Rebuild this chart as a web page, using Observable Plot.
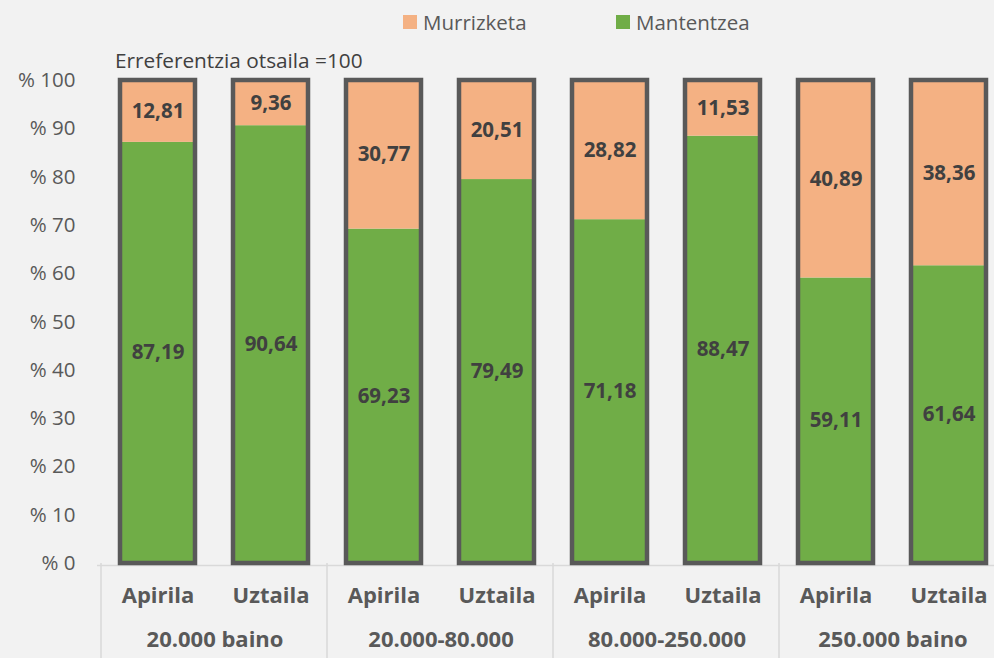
<!DOCTYPE html>
<html><head><meta charset="utf-8">
<script src="https://cdn.jsdelivr.net/npm/d3@7"></script>
<script src="https://cdn.jsdelivr.net/npm/@observablehq/plot@0.6"></script>
<style>
html,body{margin:0;padding:0;background:#f2f2f2;}
#wrap{position:relative;width:994px;height:658px;overflow:hidden;font-family:"Open Sans",sans-serif;}
.leg{position:absolute;top:8px;font-size:20.5px;line-height:28px;color:#595959;display:flex;align-items:center;}
.sw{width:14px;height:14px;display:inline-block;margin-right:6px;}
#sub{position:absolute;left:115px;top:46px;font-size:20.8px;line-height:28px;color:#404040;}
</style></head>
<body><div id="wrap"></div>
<script>
const groups = ["20.000 baino", "20.000-80.000", "80.000-250.000", "250.000 baino"];
const months = ["Apirila", "Uztaila"];
const mantentzea = [87.19, 90.64, 69.23, 79.49, 71.18, 88.47, 59.11, 61.64];
const murrizketa = [12.81, 9.36, 30.77, 20.51, 28.82, 11.53, 40.89, 38.36];
const series = ["Murrizketa", "Mantentzea"];
const colors = ["#f4b183", "#70ad47"];
const yTicks = [0, 10, 20, 30, 40, 50, 60, 70, 80, 90, 100];
const subtitle = "Erreferentzia otsaila =100";

const rows = mantentzea.map((m, i) => ({
  key: groups[Math.floor(i / 2)] + "|" + months[i % 2],
  group: groups[Math.floor(i / 2)],
  month: months[i % 2],
  mant: m,
  murr: murrizketa[i]
}));
const groupRows = groups.map(g => ({group: g, key: g + "|" + months[0]}));
const fmt = v => v.toFixed(2).replace(".", ",");

const chart = Plot.plot({
  width: 994,
  height: 658,
  marginLeft: 97,
  marginRight: 0,
  marginTop: 80,
  marginBottom: 95,
  style: {background: "#f2f2f2", fontFamily: "'Open Sans', sans-serif", fontSize: "20px"},
  x: {domain: rows.map(d => d.key), range: [97, 1009], paddingInner: 0.333, paddingOuter: 0.1667, axis: null},
  y: {domain: [0, 100], axis: null},
  marks: [
    Plot.axisY({ticks: yTicks, tickFormat: d => "% " + d, tickSize: 0, tickPadding: 22, label: null, fontSize: 20.5, color: "#595959"}),
    Plot.ruleY([0], {stroke: "#d9d9d9", strokeWidth: 1.5, dy: 2}),
    Plot.ruleX(groupRows, {x: "key", dx: -57, stroke: "#d9d9d9", strokeWidth: 1.5, insetTop: 483, insetBottom: -95}),
    Plot.barY(rows, {x: "key", y1: 0, y2: "mant", fill: colors[1]}),
    Plot.barY(rows, {x: "key", y1: "mant", y2: 100, fill: colors[0]}),
    Plot.barY(rows, {x: "key", y1: 0, y2: 100, fill: "none", stroke: "#595959", strokeWidth: 4.5}),
    Plot.text(rows, {x: "key", y: d => d.mant / 2, text: d => fmt(d.mant), fill: "#404040", fontWeight: "bold", fontSize: 20.5}),
    Plot.text(rows, {x: "key", y: d => (d.mant + 100) / 2, text: d => fmt(d.murr), fill: "#404040", fontWeight: "bold", fontSize: 20.5}),
    Plot.text(rows, {x: "key", frameAnchor: "bottom", dy: 39, text: "month", fill: "#595959", fontWeight: "bold", fontSize: 22}),
    Plot.text(groupRows, {x: "key", dx: 57, frameAnchor: "bottom", dy: 83, text: "group", fill: "#595959", fontWeight: "bold", fontSize: 22})
  ]
});
const wrap = document.getElementById("wrap");
wrap.appendChild(chart);

const leg1 = document.createElement("div");
leg1.className = "leg"; leg1.style.left = "403px";
leg1.innerHTML = `<span class="sw" style="background:${colors[0]}"></span>${series[0]}`;
const leg2 = document.createElement("div");
leg2.className = "leg"; leg2.style.left = "616px";
leg2.innerHTML = `<span class="sw" style="background:${colors[1]}"></span>${series[1]}`;
const sub = document.createElement("div");
sub.id = "sub"; sub.textContent = subtitle;
wrap.append(leg1, leg2, sub);
</script></body></html>
